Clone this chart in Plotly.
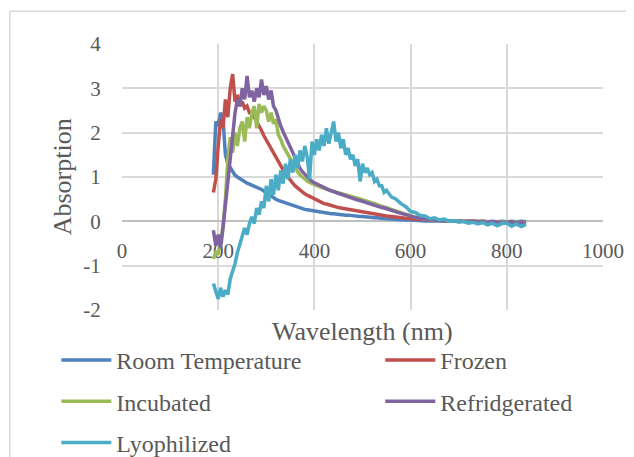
import plotly.graph_objects as go

wavelength = [190, 195, 200, 205, 210, 215, 220, 225, 230, 235,
              240, 245, 250, 255, 260, 265, 270, 275, 280, 285,
              290, 295, 300, 305, 310, 315, 320, 325, 330, 335,
              340, 345, 350, 355, 360, 365, 370, 375, 380, 385,
              390, 395, 400, 405, 410, 415, 420, 425, 430, 435,
              440, 445, 450, 455, 460, 465, 470, 475, 480, 485,
              490, 495, 500, 505, 510, 515, 520, 525, 530, 535,
              540, 545, 550, 560, 570, 580, 590, 600, 610, 620,
              630, 640, 650, 660, 670, 680, 690, 700, 710, 720,
              730, 740, 750, 760, 770, 780, 790, 800, 810, 820,
              830, 840]

room_temperature = [1.05, 2.25, 2.15, 2.45, 2.3, 1.5, 1.3, 1.2, 1.1, 1.04,
                    1.0, 0.96, 0.92, 0.88, 0.86, 0.84, 0.82, 0.8, 0.78, 0.76,
                    0.72, 0.68, 0.64, 0.6, 0.56, 0.53, 0.5, 0.47, 0.45, 0.43,
                    0.41, 0.39, 0.37, 0.35, 0.33, 0.31, 0.29, 0.28, 0.27, 0.26,
                    0.25, 0.23, 0.22, 0.21, 0.2, 0.2, 0.19, 0.18, 0.18, 0.17,
                    0.17, 0.16, 0.16, 0.15, 0.15, 0.14, 0.14, 0.13, 0.13, 0.12,
                    0.12, 0.11, 0.11, 0.1, 0.1, 0.09, 0.09, 0.08, 0.08, 0.07,
                    0.07, 0.06, 0.06, 0.05, 0.04, 0.04, 0.03, 0.03, 0.02, 0.02,
                    0.01, 0.01, 0.01, 0.0, 0.0, 0.0, 0.0, 0.0, 0.0, 0.0,
                    0.0, -0.01, 0.0, -0.01, 0.0, -0.01, 0.0, -0.01, 0.0, -0.01,
                    0.0, -0.01]

frozen = [0.65, 0.95, 1.7, 2.3, 2.1, 2.75, 2.35, 3.0, 3.32, 2.7,
          2.85, 2.6, 2.7, 2.55, 2.6, 2.45, 2.45, 2.35, 2.28, 2.15,
          2.05, 1.93, 1.83, 1.72, 1.62, 1.53, 1.44, 1.34, 1.25, 1.16,
          1.07, 0.99, 0.92, 0.86, 0.8, 0.75, 0.7, 0.66, 0.62, 0.59,
          0.56, 0.53, 0.5, 0.47, 0.45, 0.42, 0.4, 0.39, 0.37, 0.35,
          0.34, 0.33, 0.31, 0.3, 0.29, 0.28, 0.27, 0.26, 0.25, 0.24,
          0.23, 0.22, 0.21, 0.2, 0.19, 0.18, 0.17, 0.16, 0.16, 0.15,
          0.14, 0.13, 0.12, 0.11, 0.09, 0.08, 0.07, 0.06, 0.05, 0.05,
          0.04, 0.03, 0.03, 0.02, 0.02, 0.01, 0.01, 0.01, 0.0, 0.0,
          0.0, -0.01, 0.0, -0.01, -0.01, -0.02, -0.01, -0.02, -0.02, -0.03,
          -0.02, -0.03]

incubated = [-0.85, -0.7, -0.75, -0.4, -0.1, 0.5, 1.4, 1.9, 1.55, 2.0,
             1.7, 2.1, 2.25, 1.8, 2.35, 2.1, 2.45, 2.6, 2.1, 2.65,
             2.45, 2.6, 2.5, 2.25, 2.45, 2.2, 2.3, 1.95, 1.85, 1.7,
             1.6, 1.5, 1.4, 1.3, 1.2, 1.12, 1.05, 1.0, 0.95, 0.91,
             0.88, 0.85, 0.83, 0.8, 0.78, 0.76, 0.74, 0.72, 0.7, 0.69,
             0.67, 0.66, 0.64, 0.63, 0.61, 0.6, 0.58, 0.57, 0.55, 0.54,
             0.52, 0.51, 0.49, 0.47, 0.46, 0.44, 0.42, 0.4, 0.38, 0.36,
             0.35, 0.33, 0.31, 0.27, 0.23, 0.19, 0.15, 0.12, 0.09, 0.07,
             0.05, 0.04, 0.03, 0.02, 0.02, 0.01, 0.01, 0.0, 0.0, 0.0,
             -0.01, 0.0, -0.01, -0.01, -0.02, -0.01, -0.02, -0.02, -0.03, -0.02,
             -0.03, -0.04]

refridgerated = [-0.2, -0.55, -0.3, -0.6, -0.15, 0.4, 0.9, 1.4, 1.95, 2.45,
                 2.75, 2.6, 3.0, 2.75, 3.28, 2.8, 2.95, 2.7, 3.0, 2.8,
                 3.2, 2.85, 3.05, 2.75, 2.95, 2.6, 2.5, 2.3, 2.15, 2.02,
                 1.9, 1.8, 1.68, 1.55, 1.42, 1.3, 1.2, 1.12, 1.06, 1.0,
                 0.95, 0.9, 0.87, 0.84, 0.81, 0.78, 0.75, 0.73, 0.71, 0.69,
                 0.67, 0.65, 0.63, 0.61, 0.59, 0.57, 0.55, 0.53, 0.52, 0.5,
                 0.48, 0.47, 0.45, 0.44, 0.42, 0.4, 0.38, 0.36, 0.35, 0.33,
                 0.31, 0.3, 0.28, 0.25, 0.21, 0.18, 0.15, 0.11, 0.09, 0.07,
                 0.05, 0.04, 0.03, 0.02, 0.02, 0.01, 0.01, 0.0, 0.0, -0.01,
                 0.0, -0.01, -0.01, -0.02, -0.01, -0.02, -0.02, -0.03, -0.02, -0.04,
                 -0.03, -0.05]

lyophilized = [-1.4, -1.6, -1.75, -1.5, -1.7, -1.55, -1.65, -1.3, -1.15, -0.95,
               -0.7, -0.5, -0.3, -0.15, -0.3, -0.05, 0.1, -0.05, 0.3, 0.15,
               0.45, 0.3, 0.8, 0.45, 0.95, 0.6, 1.05, 0.7, 1.15, 0.85,
               1.3, 0.95, 1.4, 1.1, 1.5, 1.2, 1.6, 1.35, 1.7, 1.45,
               0.95, 1.8, 1.5, 1.85, 1.6, 1.95, 1.7, 2.1, 1.75, 2.0,
               2.25, 1.8, 2.0, 1.65, 1.85, 1.5, 1.65, 1.4, 1.5, 1.25,
               1.4, 0.9, 1.3, 1.1, 1.2, 1.05, 1.1, 0.9, 0.95, 0.8,
               0.8, 0.65, 0.7, 0.55, 0.5, 0.4, 0.33, 0.22, 0.2, 0.13,
               0.12, 0.06, 0.08, 0.03, 0.05, 0.0, 0.02, -0.02, 0.0, -0.04,
               -0.02, -0.06, -0.03, -0.08, -0.04, -0.1, -0.05, -0.04, -0.11, -0.06,
               -0.12, -0.07]

x_ticks = [0, 200, 400, 600, 800, 1000]
y_ticks = [-2, -1, 0, 1, 2, 3, 4]

series = [
    ("Room Temperature", room_temperature, "#4F81BD", "legend"),
    ("Frozen", frozen, "#C0504D", "legend2"),
    ("Incubated", incubated, "#9BBB59", "legend"),
    ("Refridgerated", refridgerated, "#8064A2", "legend2"),
    ("Lyophilized", lyophilized, "#4BACC6", "legend"),
]

FONT = "Liberation Serif"
GREY = "#595959"
GRID = "#d9d9d9"

fig = go.Figure()
for name, vals, color, leg in series:
    fig.add_trace(go.Scatter(
        x=wavelength, y=vals, name=name, mode="lines",
        line=dict(color=color, width=3.5),
        legend=leg, legendgroup=name,
    ))

# The page body adds an 8px offset; the figure is sized to fill the window.
OFF = 8
PAGE_W, PAGE_H = 634, 457
# plot area in page pixels: x 121.7..602.7, y 43.7..310
L, R, T, B = 121.7, 602.7, 43.7, 310.0
W, H = R - L, B - T


def px(xp):
    return (xp - L) / W


def py(yp):
    return (B - yp) / H


legend_common = dict(
    orientation="v", xanchor="left", yanchor="top",
    font=dict(family=FONT, size=24, color=GREY), bgcolor="rgba(0,0,0,0)",
    tracegroupgap=7, itemwidth=50, traceorder="grouped",
)

fig.update_layout(
    width=PAGE_W - OFF, height=PAGE_H - OFF, autosize=False,
    margin=dict(l=L - OFF, r=PAGE_W - R, t=T - OFF, b=PAGE_H - B, pad=0, autoexpand=False),
    paper_bgcolor="white", plot_bgcolor="white",
    font=dict(family=FONT, color=GREY),
    xaxis=dict(
        range=[0, 1000], tickvals=x_ticks, ticktext=[str(v) for v in x_ticks],
        showgrid=True, gridcolor=GRID, gridwidth=1.5,
        anchor="free", position=(B - 221.3) / H,
        showline=True, linecolor="#bfbfbf", linewidth=1.5,
        ticks="outside", ticklen=11, tickcolor="rgba(0,0,0,0)",
        tickfont=dict(family=FONT, size=21, color=GREY),
        zeroline=False, layer="below traces", automargin=False,
    ),
    yaxis=dict(
        range=[-2, 4], tickvals=y_ticks, ticktext=[str(v) for v in y_ticks],
        showgrid=True, gridcolor=GRID, gridwidth=1.5,
        zeroline=False, showline=False,
        ticks="outside", ticklen=16, tickcolor="rgba(0,0,0,0)",
        tickfont=dict(family=FONT, size=21, color=GREY),
        layer="below traces", automargin=False,
    ),
    legend=dict(x=px(56), y=py(338), **legend_common),
    legend2=dict(x=px(380), y=py(338), **legend_common),
    annotations=[
        dict(text="Wavelength (nm)", xref="paper", yref="paper", x=0.5, y=py(332),
             xanchor="center", yanchor="middle", showarrow=False,
             font=dict(family=FONT, size=26, color=GREY)),
        dict(text="Absorption", xref="paper", yref="paper", x=px(62), y=0.5,
             xanchor="center", yanchor="middle", showarrow=False, textangle=-90,
             font=dict(family=FONT, size=26, color=GREY)),
    ],
    shapes=[
        dict(type="line", xref="paper", yref="paper", x0=px(9.5), x1=px(9.5), y0=py(470), y1=py(11),
             line=dict(color=GRID, width=1.5)),
        dict(type="line", xref="paper", yref="paper", x0=px(9.5), x1=px(650), y0=py(11), y1=py(11),
             line=dict(color=GRID, width=1.5)),
    ],
)

fig.write_html("out.html")
